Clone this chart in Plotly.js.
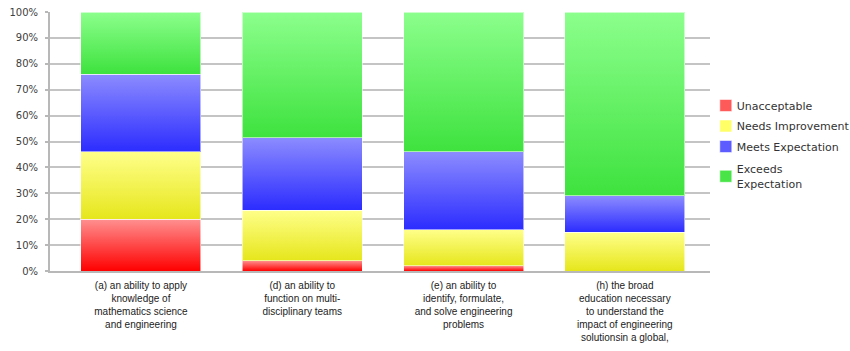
<!DOCTYPE html>
<html>
<head>
<meta charset="utf-8">
<script src="https://cdn.plot.ly/plotly-3.0.1.min.js"></script>
<style>
  html, body { margin: 0; padding: 0; background: #ffffff; }
  #chart { width: 850px; height: 351px; }
</style>
</head>
<body>
<div id="chart"></div>
<script>
// Outcome categories (x axis)
const categories = [
  "(a) an ability to apply<br>knowledge of<br>mathematics science<br>and engineering",
  "(d) an ability to<br>function on multi-<br>disciplinary teams",
  "(e) an ability to<br>identify, formulate,<br>and solve engineering<br>problems",
  "(h) the broad<br>education necessary<br>to understand the<br>impact of engineering<br>solutionsin a global,"
];

// Share of students per rating level (%)
const unacceptable       = [20, 4, 2, 0];
const needsImprovement   = [26, 19.5, 14, 15];
const meetsExpectation   = [30, 28, 30, 14];
const exceedsExpectation = [24, 48.5, 54, 71];

const seriesNames = ["Unacceptable", "Needs Improvement", "Meets Expectation", "Exceeds<br>Expectation"];
const seriesValues = [unacceptable, needsImprovement, meetsExpectation, exceedsExpectation];

// Flat legend colours and the top/bottom stops of each bar's vertical gradient
const legendColors = ["#ff5a5a", "#ffff66", "#5c5cff", "#48e448"];
const gradTop      = ["#ff9090", "#ffff8a", "#8c8cff", "#8cff8c"];
const gradBottom   = ["#ff0000", "#e6e61c", "#2c2cff", "#3ee23e"];

const yTicks = [0, 10, 20, 30, 40, 50, 60, 70, 80, 90, 100];
const yTickText = yTicks.map(v => v + "%");

const traces = seriesValues.map((vals, i) => ({
  type: "bar",
  name: seriesNames[i],
  legendgroup: "g" + i,
  x: categories,
  y: vals,
  width: 0.744,
  marker: { color: legendColors[i], line: { width: 1, color: "rgba(255,255,255,0.55)" } },
  hoverinfo: "skip"
}));

const layout = {
  width: 850,
  height: 351,
  barmode: "stack",
  paper_bgcolor: "#ffffff",
  plot_bgcolor: "#ffffff",
  margin: { l: 50, r: 140, t: 12, b: 80, autoexpand: false },
  font: { family: "DejaVu Sans, sans-serif", size: 10, color: "#404040" },
  xaxis: {
    type: "category",
    range: [-0.564, 3.528],
    showgrid: false,
    showline: true,
    linecolor: "#b8b8b8",
    linewidth: 2,
    ticks: "",
    ticklabelstandoff: 4,
    tickfont: { family: "Liberation Sans, Arial, sans-serif", size: 10, color: "#222222" },
    fixedrange: true
  },
  yaxis: {
    range: [0, 100],
    tickvals: yTicks,
    ticktext: yTickText,
    showgrid: true,
    gridcolor: "#c4c4c4",
    gridwidth: 2,
    showline: true,
    linecolor: "#b8b8b8",
    linewidth: 2,
    ticks: "outside",
    ticklen: 3,
    tickcolor: "#b8b8b8",
    tickwidth: 2,
    ticklabelstandoff: 5,
    tickfont: { family: "DejaVu Sans, sans-serif", size: 10, color: "#404040" },
    zeroline: false,
    fixedrange: true
  },
  showlegend: true,
  legend: {
    x: 0.98,
    xanchor: "left",
    y: 0.695,
    yanchor: "top",
    traceorder: "grouped",
    tracegroupgap: 1.5,
    font: { family: "DejaVu Sans, sans-serif", size: 11, color: "#333333" },
    bgcolor: "rgba(0,0,0,0)"
  }
};

// Give every bar segment a light-to-dark vertical gradient
function applyGradients(gd) {
  const svg = gd.querySelector("svg.main-svg");
  const ns = "http://www.w3.org/2000/svg";
  let defs = svg.querySelector("defs");
  if (!defs) { defs = document.createElementNS(ns, "defs"); svg.insertBefore(defs, svg.firstChild); }
  gradTop.forEach((top, i) => {
    const lg = document.createElementNS(ns, "linearGradient");
    lg.setAttribute("id", "barGrad" + i);
    lg.setAttribute("x1", "0"); lg.setAttribute("y1", "0");
    lg.setAttribute("x2", "0"); lg.setAttribute("y2", "1");
    const s1 = document.createElementNS(ns, "stop");
    s1.setAttribute("offset", "0"); s1.setAttribute("stop-color", top);
    const s2 = document.createElementNS(ns, "stop");
    s2.setAttribute("offset", "1"); s2.setAttribute("stop-color", gradBottom[i]);
    lg.appendChild(s1); lg.appendChild(s2);
    defs.appendChild(lg);
  });
  const traceGroups = gd.querySelectorAll(".barlayer .trace");
  traceGroups.forEach((g, i) => {
    g.querySelectorAll(".point path").forEach(p => {
      p.style.fill = "url(#barGrad" + i + ")";
      p.style.fillOpacity = 1;
    });
  });
  // Tuck the legend swatches closer to their labels
  gd.querySelectorAll(".legend .legendpoints").forEach(lp => {
    lp.setAttribute("transform", "translate(9,0)");
  });
  // A little extra room above the two-line entry
  const groups = gd.querySelectorAll(".legend .groups");
  if (groups.length) {
    const last = groups[groups.length - 1];
    last.setAttribute("transform", (last.getAttribute("transform") || "") + " translate(0,3)");
  }
}

const gd = document.getElementById("chart");
Plotly.newPlot(gd, traces, layout, { displayModeBar: false, staticPlot: true })
  .then(() => applyGradients(gd));
</script>
</body>
</html>
